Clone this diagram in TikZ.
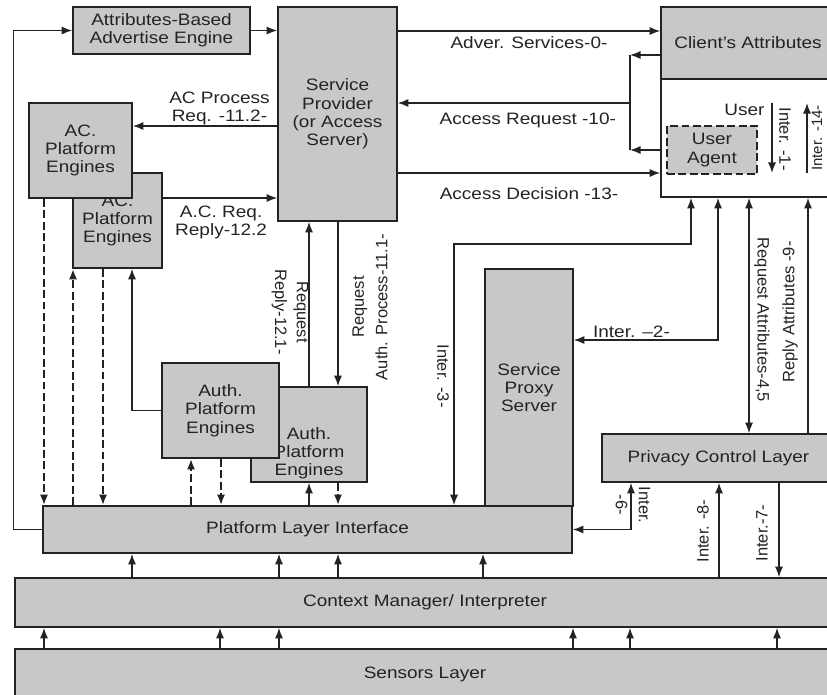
\documentclass[tikz,border=0pt]{standalone}
\usepackage{fontspec}
\setmainfont{Liberation Sans}[FakeStretch=1.15]
\newfontfamily\rotsf{Liberation Sans}
\usetikzlibrary{arrows.meta}
\definecolor{boxgray}{RGB}{200,200,200}
\definecolor{ink}{RGB}{35,35,35}

\tikzset{
  blk/.style={draw, fill=boxgray, line width=0.9pt, inner sep=0pt, align=center},
  lbl/.style={inner sep=1pt, align=center},
  vlbl/.style={font=\rotsf\fontsize{9.4}{10.4}\selectfont, inner sep=1pt, align=center},
  dsh/.style={line width=1.6pt, dash pattern=on 4.5pt off 2pt},
}

\begin{document}
\begin{tikzpicture}[x=0.02cm, y=-0.02cm, >={Latex[length=6pt,width=4.6pt]},
    line width=0.85pt, color=ink, font=\fontsize{9.4}{10.4}\selectfont]
    \clip (0,0) rectangle (827,694);

    % boxes
    \node[blk, minimum width=3.54cm, minimum height=0.94cm] (abe) at (161.5,30.5) {Attributes-Based\\Advertise Engine};
    \node[blk, minimum width=2.38cm, minimum height=4.28cm] (sp) at (337.5,114) {Service\\Provider\\(or Access\\Server)};
    \node[blk, minimum width=3.48cm, minimum height=1.44cm] (clattr) at (748,43) {Client’s Attributes};
    \node[blk, fill=white, minimum width=3.48cm, minimum height=2.36cm] (clbox) at (748,138) {};
    \node[blk, dashed, line width=1.6pt, dash pattern=on 4.5pt off 2pt, minimum width=1.8cm, minimum height=0.96cm] (ua) at (712,150) {User\\Agent};
    \node[blk, minimum width=1.78cm, minimum height=1.9cm] (ac2) at (117.5,220.5) {AC.\\Platform\\Engines};
    \node[blk, minimum width=2.06cm, minimum height=1.9cm] (ac1) at (80.5,150.5) {AC.\\Platform\\Engines};
    \node[blk, minimum width=2.32cm, minimum height=1.9cm] (auth2) at (309,434.5) {};
    \node[lbl] (auth2t) at (309,453) {Auth.\\Platform\\Engines};
    \node[blk, minimum width=2.34cm, minimum height=1.9cm] (auth1) at (220.5,410.5) {Auth.\\Platform\\Engines};
    \node[blk, minimum width=1.76cm, minimum height=4.74cm] (spx) at (529,387.5) {Service\\Proxy\\Server};
    \node[blk, minimum width=10.58cm, minimum height=0.94cm] (pli) at (307.5,529.5) {Platform Layer Interface};
    \node[blk, minimum width=4.66cm, minimum height=0.96cm] (pcl) at (718.5,458) {Privacy Control Layer};
    \node[blk, minimum width=16.4cm, minimum height=0.98cm] (cmi) at (425,602.5) {Context Manager/ Interpreter};
    \node[blk, minimum width=16.4cm, minimum height=1.0cm] (sen) at (425,674) {Sensors Layer};

    % advertise loop
    \draw[->] (pli.west) -- ++(-29,0) |- (abe.west);
    \draw[->] (abe.east) -- (abe.east -| sp.west);

    % provider <-> client
    \draw[->] (sp.east |- 0,31) -- node[lbl, below=1.5pt] {Adver. Services-0-} (clattr.west |- 0,31);
    \coordinate (jt) at (630,55);
    \coordinate (jb) at (630,150);
    \draw[->] (clattr.west |- jt) -- (jt);
    \draw[->] (clbox.west |- jb) -- (jb);
    \draw (jt) -- (jb);
    \draw[->] (jt |- 0,103) -- node[lbl, pos=0.44, below=4pt] {Access Request -10-} (sp.east |- 0,103);
    \draw[->] (sp.east |- 0,173) -- node[lbl, below=7pt] {Access Decision -13-} (clbox.west |- 0,173);

    % provider <-> AC engines
    \draw[->] (sp.west |- 0,126) -- node[lbl, pos=0.4, above, inner sep=0pt] {AC Process\\Req. -11.2-} (ac1.east |- 0,126);
    \draw[->] (ac2.east |- 0,198) -- node[lbl, pos=0.51, below=3pt] {A.C. Req.\\Reply-12.2} (sp.west |- 0,198);

    % engines <-> platform layer
    \draw[->, dsh] (ac1.south -| 44,0) -- (pli.north -| 44,0);
    \draw[->, dsh] (pli.north -| 73,0) -- (ac2.south -| 73,0);
    \draw[->, dsh] (ac2.south -| 103,0) -- (pli.north -| 103,0);
    \draw[->] (auth1.west) -| (ac2.south -| 132,0);
    \draw[->, dsh] (pli.north -| 191,0) -- (auth1.south -| 191,0);
    \draw[->, dsh] (auth1.south -| 221,0) -- (pli.north -| 221,0);
    \draw[->] (pli.north -| auth2.south) -- (auth2.south);
    \draw[->, dsh] (auth2.south -| 338,0) -- (pli.north -| 338,0);

    % provider <-> auth engines
    \draw[->] (auth2.north) -- (sp.south -| auth2.north);
    \node[vlbl, rotate=-90] (l121) at (290,312) {Request\\[2pt]Reply-12.1-};
    \draw[->] (sp.south -| 338,0) -- (auth2.north -| 338,0);
    \node[vlbl, rotate=90] (l111) at (370,307) {Request\\[3pt]Auth. Process-11.1-};

    % client links
    \coordinate (b3) at (691,244);
    \draw[<->] (pli.north -| 454,0) |- (b3) -- (clbox.south -| b3);
    \node[vlbl, rotate=-90] (l3) at (443,376) {Inter. -3-};
    \draw[<->] (spx.east |- 0,340) -| node[lbl, pos=0.2, above] {Inter. –2-} (clbox.south -| 718,0);
    \draw[<->] (pcl.north -| 749,0) -- (clbox.south -| 749,0);
    \node[vlbl, rotate=-90] (l45) at (762,320) {Request Attributes-4,5};
    \draw[->] (pcl.north -| 808,0) -- (clbox.south -| 808,0);
    \node[vlbl, rotate=90] (l9) at (790,312) {Reply Attributes -9-};

    % user interaction
    \node[lbl, anchor=east] (user) at (767,110) {User};
    \coordinate (u1a) at (772,103);
    \coordinate (u1b) at (772,173);
    \draw[->] (u1a) -- (u1b);
    \node[vlbl, rotate=-90] (l1) at (785,139) {Inter. -1-};
    \coordinate (u14a) at (807,173);
    \coordinate (u14b) at (807,103);
    \draw[->] (u14a) -- (u14b);
    \node[vlbl, rotate=90, font=\rotsf\fontsize{8.5}{9}\selectfont] (l14) at (817,138) {Inter. -14-};

    % privacy layer
    \draw[<->] (pli.east) -| (pcl.south -| 631,0);
    \node[vlbl, rotate=-90] (l6) at (633,505) {Inter.\\[2.6pt]-6-};
    \draw[->] (cmi.north -| 719,0) -- (pcl.south -| 719,0);
    \node[vlbl, rotate=90] (l8) at (703,531) {Inter. -8-};
    \draw[->] (pcl.south -| 779,0) -- (cmi.north -| 779,0);
    \node[vlbl, rotate=90] (l7) at (762,533) {Inter.-7-};

    % layer stack
    \foreach \x in {132,279,338,483}
        \draw[->] (cmi.north -| \x,0) -- (pli.south -| \x,0);
    \foreach \x in {44,220,279,573,630,777}
        \draw[->] (sen.north -| \x,0) -- (cmi.south -| \x,0);
\end{tikzpicture}
\end{document}
